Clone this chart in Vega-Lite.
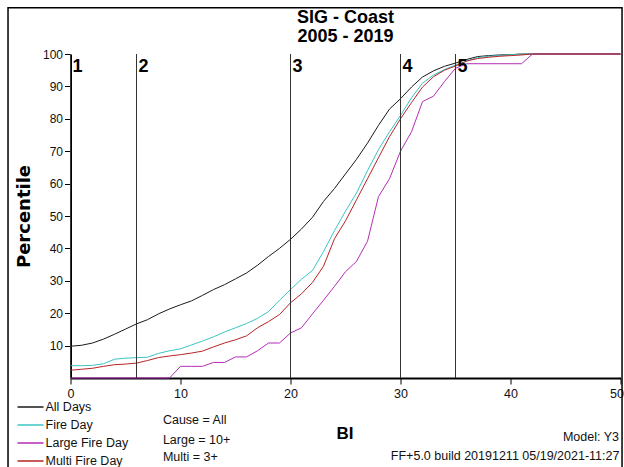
{
  "$schema": "https://vega.github.io/schema/vega-lite/v6.json",
  "width": 550,
  "height": 324,
  "autosize": {"type": "none"},
  "padding": {"left": 70.5, "top": 54, "right": 3.5, "bottom": 89},
  "background": "white",
  "config": {
    "view": {"stroke": null},
    "font": "Liberation Sans",
    "axis": {"labelOverlap": false, "labelSeparation": 0},
    "axisY": {"labelOverlap": false}
  },
  "title": {
    "text": ["SIG - Coast", "2005 - 2019"],
    "font": "Liberation Sans",
    "fontSize": 18,
    "fontWeight": "bold",
    "color": "#000000",
    "anchor": "middle",
    "lineHeight": 19,
    "offset": 6,
    "dy": 45
  },
  "datasets": {
    "curves": [
      {"series": "All Days", "bi": 0, "pct": 9.8}, {"series": "All Days", "bi": 1, "pct": 10.1}, {"series": "All Days", "bi": 2, "pct": 10.8}, {"series": "All Days", "bi": 3, "pct": 12.0}, {"series": "All Days", "bi": 4, "pct": 13.5}, {"series": "All Days", "bi": 5, "pct": 15.1}, {"series": "All Days", "bi": 6, "pct": 16.7}, {"series": "All Days", "bi": 7, "pct": 18.0}, {"series": "All Days", "bi": 8, "pct": 19.8}, {"series": "All Days", "bi": 9, "pct": 21.3}, {"series": "All Days", "bi": 10, "pct": 22.6}, {"series": "All Days", "bi": 11, "pct": 23.8}, {"series": "All Days", "bi": 12, "pct": 25.5}, {"series": "All Days", "bi": 13, "pct": 27.3}, {"series": "All Days", "bi": 14, "pct": 28.8}, {"series": "All Days", "bi": 15, "pct": 30.6}, {"series": "All Days", "bi": 16, "pct": 32.4}, {"series": "All Days", "bi": 17, "pct": 34.8}, {"series": "All Days", "bi": 18, "pct": 37.5}, {"series": "All Days", "bi": 19, "pct": 40.0}, {"series": "All Days", "bi": 20, "pct": 42.8}, {"series": "All Days", "bi": 21, "pct": 46.0}, {"series": "All Days", "bi": 22, "pct": 49.6}, {"series": "All Days", "bi": 23, "pct": 54.5}, {"series": "All Days", "bi": 24, "pct": 58.5}, {"series": "All Days", "bi": 25, "pct": 63.0}, {"series": "All Days", "bi": 26, "pct": 67.5}, {"series": "All Days", "bi": 27, "pct": 72.5}, {"series": "All Days", "bi": 28, "pct": 78.0}, {"series": "All Days", "bi": 29, "pct": 83.0}, {"series": "All Days", "bi": 30, "pct": 86.2}, {"series": "All Days", "bi": 31, "pct": 89.8}, {"series": "All Days", "bi": 32, "pct": 92.9}, {"series": "All Days", "bi": 33, "pct": 94.8}, {"series": "All Days", "bi": 34, "pct": 96.2}, {"series": "All Days", "bi": 35, "pct": 97.2}, {"series": "All Days", "bi": 36, "pct": 98.3}, {"series": "All Days", "bi": 37, "pct": 99.2}, {"series": "All Days", "bi": 38, "pct": 99.5}, {"series": "All Days", "bi": 39, "pct": 99.7}, {"series": "All Days", "bi": 40, "pct": 99.8}, {"series": "All Days", "bi": 41, "pct": 100}, {"series": "All Days", "bi": 50, "pct": 100},
      {"series": "Fire Day", "bi": 0, "pct": 3.8}, {"series": "Fire Day", "bi": 1, "pct": 3.8}, {"series": "Fire Day", "bi": 2, "pct": 3.9}, {"series": "Fire Day", "bi": 3, "pct": 4.4}, {"series": "Fire Day", "bi": 4, "pct": 5.8}, {"series": "Fire Day", "bi": 5, "pct": 6.1}, {"series": "Fire Day", "bi": 6, "pct": 6.3}, {"series": "Fire Day", "bi": 7, "pct": 6.4}, {"series": "Fire Day", "bi": 8, "pct": 7.6}, {"series": "Fire Day", "bi": 9, "pct": 8.4}, {"series": "Fire Day", "bi": 10, "pct": 9.0}, {"series": "Fire Day", "bi": 11, "pct": 10.2}, {"series": "Fire Day", "bi": 12, "pct": 11.4}, {"series": "Fire Day", "bi": 13, "pct": 12.7}, {"series": "Fire Day", "bi": 14, "pct": 14.2}, {"series": "Fire Day", "bi": 15, "pct": 15.5}, {"series": "Fire Day", "bi": 16, "pct": 16.8}, {"series": "Fire Day", "bi": 17, "pct": 18.4}, {"series": "Fire Day", "bi": 18, "pct": 20.5}, {"series": "Fire Day", "bi": 19, "pct": 24.0}, {"series": "Fire Day", "bi": 20, "pct": 27.3}, {"series": "Fire Day", "bi": 21, "pct": 30.5}, {"series": "Fire Day", "bi": 22, "pct": 33.2}, {"series": "Fire Day", "bi": 23, "pct": 39.0}, {"series": "Fire Day", "bi": 24, "pct": 45.5}, {"series": "Fire Day", "bi": 25, "pct": 51.5}, {"series": "Fire Day", "bi": 26, "pct": 57.1}, {"series": "Fire Day", "bi": 27, "pct": 64.0}, {"series": "Fire Day", "bi": 28, "pct": 70.5}, {"series": "Fire Day", "bi": 29, "pct": 76.0}, {"series": "Fire Day", "bi": 30, "pct": 81.0}, {"series": "Fire Day", "bi": 31, "pct": 86.5}, {"series": "Fire Day", "bi": 32, "pct": 91.0}, {"series": "Fire Day", "bi": 33, "pct": 93.5}, {"series": "Fire Day", "bi": 34, "pct": 95.2}, {"series": "Fire Day", "bi": 35, "pct": 96.6}, {"series": "Fire Day", "bi": 36, "pct": 97.8}, {"series": "Fire Day", "bi": 37, "pct": 98.9}, {"series": "Fire Day", "bi": 38, "pct": 99.3}, {"series": "Fire Day", "bi": 39, "pct": 99.5}, {"series": "Fire Day", "bi": 40, "pct": 99.8}, {"series": "Fire Day", "bi": 41, "pct": 99.9}, {"series": "Fire Day", "bi": 42, "pct": 100}, {"series": "Fire Day", "bi": 50, "pct": 100},
      {"series": "Large Fire Day", "bi": 0, "pct": 0}, {"series": "Large Fire Day", "bi": 9, "pct": 0}, {"series": "Large Fire Day", "bi": 10, "pct": 3.6}, {"series": "Large Fire Day", "bi": 11, "pct": 3.6}, {"series": "Large Fire Day", "bi": 12, "pct": 3.6}, {"series": "Large Fire Day", "bi": 13, "pct": 4.8}, {"series": "Large Fire Day", "bi": 14, "pct": 4.8}, {"series": "Large Fire Day", "bi": 15, "pct": 6.5}, {"series": "Large Fire Day", "bi": 16, "pct": 6.5}, {"series": "Large Fire Day", "bi": 17, "pct": 8.4}, {"series": "Large Fire Day", "bi": 18, "pct": 10.8}, {"series": "Large Fire Day", "bi": 19, "pct": 10.8}, {"series": "Large Fire Day", "bi": 20, "pct": 13.9}, {"series": "Large Fire Day", "bi": 21, "pct": 15.5}, {"series": "Large Fire Day", "bi": 22, "pct": 19.8}, {"series": "Large Fire Day", "bi": 23, "pct": 24.0}, {"series": "Large Fire Day", "bi": 24, "pct": 28.3}, {"series": "Large Fire Day", "bi": 25, "pct": 32.8}, {"series": "Large Fire Day", "bi": 26, "pct": 36.0}, {"series": "Large Fire Day", "bi": 27, "pct": 42.2}, {"series": "Large Fire Day", "bi": 28, "pct": 56.0}, {"series": "Large Fire Day", "bi": 29, "pct": 61.5}, {"series": "Large Fire Day", "bi": 30, "pct": 70.0}, {"series": "Large Fire Day", "bi": 31, "pct": 76.0}, {"series": "Large Fire Day", "bi": 32, "pct": 85.3}, {"series": "Large Fire Day", "bi": 33, "pct": 87.0}, {"series": "Large Fire Day", "bi": 34, "pct": 91.5}, {"series": "Large Fire Day", "bi": 35, "pct": 95.6}, {"series": "Large Fire Day", "bi": 36, "pct": 97.0}, {"series": "Large Fire Day", "bi": 41, "pct": 97.0}, {"series": "Large Fire Day", "bi": 42, "pct": 100}, {"series": "Large Fire Day", "bi": 50, "pct": 100},
      {"series": "Multi Fire Day", "bi": 0, "pct": 2.4}, {"series": "Multi Fire Day", "bi": 1, "pct": 2.7}, {"series": "Multi Fire Day", "bi": 2, "pct": 3.0}, {"series": "Multi Fire Day", "bi": 3, "pct": 3.6}, {"series": "Multi Fire Day", "bi": 4, "pct": 4.1}, {"series": "Multi Fire Day", "bi": 5, "pct": 4.3}, {"series": "Multi Fire Day", "bi": 6, "pct": 4.6}, {"series": "Multi Fire Day", "bi": 7, "pct": 5.4}, {"series": "Multi Fire Day", "bi": 8, "pct": 6.3}, {"series": "Multi Fire Day", "bi": 9, "pct": 6.8}, {"series": "Multi Fire Day", "bi": 10, "pct": 7.2}, {"series": "Multi Fire Day", "bi": 11, "pct": 7.7}, {"series": "Multi Fire Day", "bi": 12, "pct": 8.3}, {"series": "Multi Fire Day", "bi": 13, "pct": 9.6}, {"series": "Multi Fire Day", "bi": 14, "pct": 10.8}, {"series": "Multi Fire Day", "bi": 15, "pct": 11.8}, {"series": "Multi Fire Day", "bi": 16, "pct": 13.0}, {"series": "Multi Fire Day", "bi": 17, "pct": 15.5}, {"series": "Multi Fire Day", "bi": 18, "pct": 17.4}, {"series": "Multi Fire Day", "bi": 19, "pct": 19.6}, {"series": "Multi Fire Day", "bi": 20, "pct": 23.2}, {"series": "Multi Fire Day", "bi": 21, "pct": 26.0}, {"series": "Multi Fire Day", "bi": 22, "pct": 29.5}, {"series": "Multi Fire Day", "bi": 23, "pct": 34.5}, {"series": "Multi Fire Day", "bi": 24, "pct": 43.0}, {"series": "Multi Fire Day", "bi": 25, "pct": 48.5}, {"series": "Multi Fire Day", "bi": 26, "pct": 55.0}, {"series": "Multi Fire Day", "bi": 27, "pct": 61.5}, {"series": "Multi Fire Day", "bi": 28, "pct": 68.0}, {"series": "Multi Fire Day", "bi": 29, "pct": 74.5}, {"series": "Multi Fire Day", "bi": 30, "pct": 80.0}, {"series": "Multi Fire Day", "bi": 31, "pct": 85.0}, {"series": "Multi Fire Day", "bi": 32, "pct": 89.8}, {"series": "Multi Fire Day", "bi": 33, "pct": 93.0}, {"series": "Multi Fire Day", "bi": 34, "pct": 95.0}, {"series": "Multi Fire Day", "bi": 35, "pct": 96.3}, {"series": "Multi Fire Day", "bi": 36, "pct": 97.8}, {"series": "Multi Fire Day", "bi": 37, "pct": 98.6}, {"series": "Multi Fire Day", "bi": 38, "pct": 99.0}, {"series": "Multi Fire Day", "bi": 39, "pct": 99.3}, {"series": "Multi Fire Day", "bi": 40, "pct": 99.5}, {"series": "Multi Fire Day", "bi": 41, "pct": 99.7}, {"series": "Multi Fire Day", "bi": 42, "pct": 100}, {"series": "Multi Fire Day", "bi": 50, "pct": 100}
    ],
    "zones": [
      {"zone": "1", "bi": 0},
      {"zone": "2", "bi": 6},
      {"zone": "3", "bi": 20},
      {"zone": "4", "bi": 30},
      {"zone": "5", "bi": 35}
    ],
    "one": [{}]
  },
  "layer": [
    {
      "data": {"name": "curves"},
      "mark": {"type": "line", "strokeWidth": 1},
      "encoding": {
        "x": {
          "field": "bi", "type": "quantitative",
          "scale": {"domain": [0, 50], "nice": false, "zero": false},
          "axis": {
            "title": "BI", "values": [0, 10, 20, 30, 40, 50], "grid": false,
            "domainColor": "#000000", "domainWidth": 2, "tickColor": "#000000", "tickSize": 6, "tickWidth": 1,
            "labelFont": "Liberation Sans", "labelFontSize": 12.5, "labelColor": "#111111", "labelPadding": 3, "labelFlush": false, "labelOverlap": false,
            "labelAlign": {"condition": {"test": "datum.value >= 50", "value": "right"}, "value": "center"},
            "labelOffset": {"condition": {"test": "datum.value >= 50", "value": 3}, "value": 0},
            "titleFont": "Liberation Sans", "titleFontSize": 17, "titleFontWeight": "bold", "titleColor": "#000000",
            "titleY": 55, "titleBaseline": "middle", "titleX": 274
          }
        },
        "y": {
          "field": "pct", "type": "quantitative",
          "scale": {"domain": [0, 100], "nice": false, "zero": false},
          "axis": {
            "title": "Percentile", "values": [10, 20, 30, 40, 50, 60, 70, 80, 90, 100], "tickCount": 10, "grid": false,
            "domainColor": "#000000", "domainWidth": 2, "tickColor": "#000000", "tickSize": 6, "tickWidth": 1,
            "labelFont": "Liberation Sans", "labelFontSize": 12, "labelColor": "#111111", "labelPadding": 2, "labelFlush": false, "labelOverlap": false,
            "titleFont": "DejaVu Sans", "titleFontSize": 18, "titleFontWeight": "bold", "titleColor": "#000000",
            "titleX": -46, "titleY": 162, "titleAlign": "center", "titleBaseline": "middle", "titleAngle": -90
          }
        },
        "color": {
          "field": "series", "type": "nominal",
          "scale": {
            "domain": ["All Days", "Fire Day", "Large Fire Day", "Multi Fire Day"],
            "range": ["#1a1a1a", "#3cc4c4", "#b52db5", "#b82424"]
          },
          "legend": {
            "orient": "none", "legendX": -54, "legendY": 344, "title": null,
            "symbolType": "stroke", "symbolSize": 676, "symbolStrokeWidth": 1.3,
            "clipHeight": 18, "rowPadding": 0, "padding": 0, "labelOffset": 1,
            "labelFont": "Liberation Sans", "labelFontSize": 12.5, "labelColor": "#111111"
          }
        },
        "order": {"field": "bi", "type": "quantitative"}
      }
    },
    {
      "data": {"name": "zones"},
      "mark": {"type": "rule", "color": "#333333", "strokeWidth": 1},
      "encoding": {
        "x": {"field": "bi", "type": "quantitative"},
        "y": {"datum": 0, "type": "quantitative"},
        "y2": {"datum": 100}
      }
    },
    {
      "data": {"name": "zones"},
      "mark": {"type": "text", "align": "left", "baseline": "top", "dx": 2, "dy": 4, "fontSize": 18, "fontWeight": "bold", "font": "Liberation Sans", "color": "#000000"},
      "encoding": {
        "x": {"field": "bi", "type": "quantitative"},
        "y": {"datum": 100, "type": "quantitative"},
        "text": {"field": "zone"}
      }
    },
    {
      "data": {"name": "one"},
      "mark": {"type": "rect", "fill": "transparent", "stroke": "#000000", "strokeWidth": 1.5, "clip": false},
      "encoding": {
        "x": {"datum": -5.68, "type": "quantitative"},
        "x2": {"datum": 50.14},
        "y": {"datum": 114.3, "type": "quantitative"},
        "y2": {"datum": -29.8}
      }
    },
    {
      "data": {"name": "one"},
      "mark": {"type": "text", "align": "left", "baseline": "middle", "fontSize": 12.5, "font": "Liberation Sans", "color": "#111111"},
      "encoding": {
        "x": {"datum": 8.4, "type": "quantitative"},
        "y": {"datum": -13.1, "type": "quantitative"},
        "text": {"value": "Cause = All"}
      }
    },
    {
      "data": {"name": "one"},
      "mark": {"type": "text", "align": "left", "baseline": "middle", "fontSize": 12.5, "font": "Liberation Sans", "color": "#111111"},
      "encoding": {
        "x": {"datum": 8.4, "type": "quantitative"},
        "y": {"datum": -19.0, "type": "quantitative"},
        "text": {"value": "Large = 10+"}
      }
    },
    {
      "data": {"name": "one"},
      "mark": {"type": "text", "align": "left", "baseline": "middle", "fontSize": 12.5, "font": "Liberation Sans", "color": "#111111"},
      "encoding": {
        "x": {"datum": 8.4, "type": "quantitative"},
        "y": {"datum": -24.5, "type": "quantitative"},
        "text": {"value": "Multi = 3+"}
      }
    },
    {
      "data": {"name": "one"},
      "mark": {"type": "text", "align": "right", "baseline": "middle", "fontSize": 12.5, "font": "Liberation Sans", "color": "#111111"},
      "encoding": {
        "x": {"datum": 49.86, "type": "quantitative"},
        "y": {"datum": -18.1, "type": "quantitative"},
        "text": {"value": "Model: Y3"}
      }
    },
    {
      "data": {"name": "one"},
      "mark": {"type": "text", "align": "right", "baseline": "middle", "fontSize": 12.5, "font": "Liberation Sans", "color": "#111111"},
      "encoding": {
        "x": {"datum": 49.9, "type": "quantitative"},
        "y": {"datum": -24.2, "type": "quantitative"},
        "text": {"value": "FF+5.0 build 20191211 05/19/2021-11:27"}
      }
    }
  ]
}
